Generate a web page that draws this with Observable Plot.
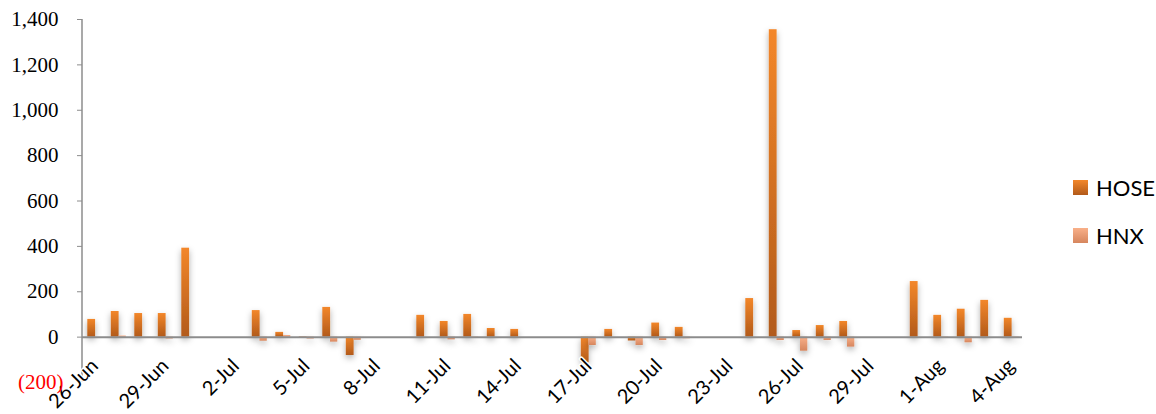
<!DOCTYPE html>
<html>
<head>
<meta charset="utf-8">
<script src="https://cdn.jsdelivr.net/npm/d3@7"></script>
<script src="https://cdn.jsdelivr.net/npm/@observablehq/plot@0.6"></script>
<style>
  html, body { margin: 0; padding: 0; background: #fff; }
  #wrap { position: relative; width: 1156px; height: 414px; overflow: hidden; }
  .leg { position: absolute; left: 1073px; font-family: Lato, "Open Sans", sans-serif; font-size: 22px; color: #000; display: flex; align-items: center; }
  .sw { width: 15px; height: 15px; margin-right: 8px; }
</style>
</head>
<body>
<div id="wrap"></div>
<script>
// ---- data ----
const tradingDays = ["26-Jun","27-Jun","28-Jun","29-Jun","30-Jun",
  "3-Jul","4-Jul","5-Jul","6-Jul","7-Jul",
  "10-Jul","11-Jul","12-Jul","13-Jul","14-Jul",
  "17-Jul","18-Jul","19-Jul","20-Jul","21-Jul",
  "24-Jul","25-Jul","26-Jul","27-Jul","28-Jul",
  "31-Jul","1-Aug","2-Aug","3-Aug","4-Aug"];
const hose = [78, 113, 104, 104, 392,
  117, 21, 2, 131, -81,
  96, 69, 100, 38, 34,
  -113, 34, -17, 62, 43,
  170, 1355, 29, 51, 69,
  245, 96, 123, 162, 83];
const hnx = [0, 5, 0, -8, 0,
  -18, 7, -8, -22, -14,
  0, -12, -5, 0, 0,
  -37, 0, -37, -15, -7,
  0, -15, -62, -15, -44,
  0, -5, -25, 0, -5];
const tickLabels = ["26-Jun","29-Jun","2-Jul","5-Jul","8-Jul","11-Jul","14-Jul","17-Jul","20-Jul","23-Jul","26-Jul","29-Jul","1-Aug","4-Aug"];
const yTicks = [0, 200, 400, 600, 800, 1000, 1200, 1400];
const yNegTicks = [-200];
const yDomain = [-200, 1400];
const seriesNames = ["HOSE", "HNX"];

// calendar-day category axis (Excel date axis incl. weekends)
const fmt = d3.utcFormat("%-d-%b");
const allDays = d3.utcDay.range(new Date(Date.UTC(2017, 5, 26)), new Date(Date.UTC(2017, 7, 5))).map(fmt);

const hoseData = tradingDays.map((d, i) => ({day: d, value: hose[i]}));
const hnxData = tradingDays.map((d, i) => ({day: d, value: hnx[i]})).filter(d => d.value !== 0);

// left axis line drawn from the y scale
const yAxisLine = (index, scales, values, dimensions) => {
  const g = d3.create("svg:g");
  g.append("line")
    .attr("x1", dimensions.marginLeft).attr("x2", dimensions.marginLeft)
    .attr("y1", scales.y(yDomain[1])).attr("y2", scales.y(yDomain[0]))
    .attr("stroke", "#8c8c8c").attr("stroke-width", 1.5);
  return g.node();
};

const plot = Plot.plot({
  width: 1156,
  height: 414,
  marginLeft: 82,
  marginRight: 134,
  marginTop: 19,
  marginBottom: 32,
  style: {background: "#fff", overflow: "visible"},
  x: {type: "band", domain: allDays, padding: 0, round: false, axis: null},
  y: {domain: yDomain, axis: null, label: null},
  marks: [
    Plot.barY(hoseData, {x: "day", y: "value", fill: "url(#gHOSE)", insetLeft: 5.3, insetRight: 10.4}),
    Plot.barY(hnxData, {x: "day", y: "value", fill: "url(#gHNX)", insetLeft: 13, insetRight: 3.2}),
    Plot.ruleY([0], {stroke: "#8c8c8c", strokeWidth: 2}),
    yAxisLine,
    Plot.text(tickLabels, {x: d => d, y: () => 0, text: d => d, rotate: -45, textAnchor: "end", lineAnchor: "top",
      dx: -5, dy: 20, fontSize: 20, fontFamily: "Lato, 'Open Sans', sans-serif", fill: "#000",
      stroke: "#fff", strokeWidth: 3}),
    Plot.axisY({ticks: yTicks, tickFormat: d3.format(","), tickSize: 5, tickPadding: 19, stroke: "#8c8c8c", label: null,
      fontSize: 21, fontFamily: "'Liberation Serif', serif", fill: "#000"}),
    Plot.axisY({ticks: yNegTicks, tickFormat: d => `(${-d})`, tickSize: 0, tickPadding: 19, label: null,
      fontSize: 21, fontFamily: "'Liberation Serif', serif", fill: "#ff0000"})
  ]
});

const defs = d3.select(plot).insert("defs", ":first-child");
const g1 = defs.append("linearGradient").attr("id", "gHOSE").attr("x1", 0).attr("y1", 0).attr("x2", 0).attr("y2", 1);
g1.append("stop").attr("offset", "0%").attr("stop-color", "#f3872a");
g1.append("stop").attr("offset", "100%").attr("stop-color", "#b25a1a");
const g2 = defs.append("linearGradient").attr("id", "gHNX").attr("x1", 0).attr("y1", 0).attr("x2", 0).attr("y2", 1);
g2.append("stop").attr("offset", "0%").attr("stop-color", "#f9b089");
g2.append("stop").attr("offset", "100%").attr("stop-color", "#d6865e");
const f = defs.append("filter").attr("id", "shadow").attr("filterUnits", "userSpaceOnUse")
  .attr("x", 0).attr("y", 0).attr("width", 1156).attr("height", 414);
f.append("feDropShadow").attr("dx", 0).attr("dy", 3).attr("stdDeviation", 3)
  .attr("flood-color", "#000").attr("flood-opacity", 0.32);
d3.select(plot).selectAll("g[aria-label='bar'] rect").attr("filter", "url(#shadow)");

const wrap = document.getElementById("wrap");
wrap.appendChild(plot);

const legendColors = {HOSE: ["#f3872a", "#b25a1a"], HNX: ["#f9b089", "#d6865e"]};
const legendTops = [174, 222];
seriesNames.forEach((name, i) => {
  const div = document.createElement("div");
  div.className = "leg";
  div.style.top = legendTops[i] + "px";
  div.innerHTML = `<div class="sw" style="background:linear-gradient(${legendColors[name][0]}, ${legendColors[name][1]})"></div><span>${name}</span>`;
  wrap.appendChild(div);
});
</script>
</body>
</html>
